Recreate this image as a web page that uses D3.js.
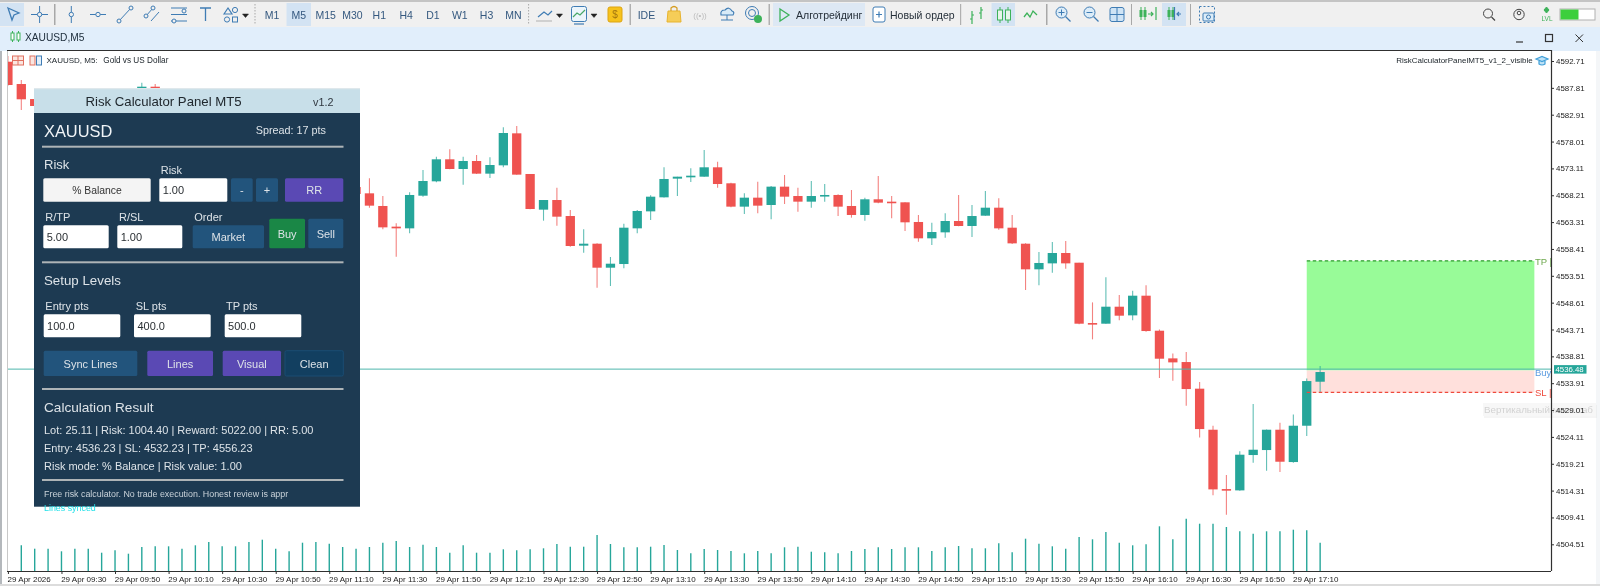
<!DOCTYPE html>
<html>
<head>
<meta charset="utf-8">
<title>XAUUSD,M5</title>
<script src="https://cdn.jsdelivr.net/npm/d3@7"></script>
<style>
html, body { margin: 0; padding: 0; background: #fff; overflow: hidden; }
svg { display: block; filter: blur(0.35px); }
text { font-family: "Liberation Sans", Arial, sans-serif; }
</style>
</head>
<body>
<svg width="1600" height="586"></svg>
<script>
// bar numbers run from the cut off bar at the left edge to the last open bar
var firstBar = -1;
var opens = [
  4592.58, 4588.51, 4585.77, 4585.20, 4586.40, 4586.00, 4586.80, 4585.90, 4586.70, 4587.30,
  4586.60, 4588.02, 4586.40, 4584.80, 4583.20, 4584.10, 4581.90, 4580.30, 4581.40, 4578.90,
  4577.10, 4578.00, 4575.20, 4573.40, 4574.30, 4571.60, 4569.71, 4568.56, 4566.25, 4562.48,
  4562.17, 4568.13, 4570.75, 4574.77, 4573.00, 4574.46, 4572.15, 4573.67, 4579.51, 4572.09,
  4565.58, 4567.34, 4564.42, 4559.01, 4559.37, 4554.99, 4555.66, 4562.17, 4565.27, 4567.83,
  4571.24, 4571.48, 4571.60, 4573.31, 4570.39, 4566.13, 4567.77, 4566.43, 4569.78, 4568.07,
  4567.04, 4568.01, 4568.26, 4566.25, 4564.61, 4567.47, 4567.04, 4566.92, 4563.33, 4560.35,
  4561.44, 4563.51, 4562.60, 4564.48, 4565.94, 4562.29, 4559.37, 4554.69, 4555.78, 4557.67,
  4555.90, 4544.89, 4544.77, 4547.87, 4546.29, 4549.88, 4543.49, 4538.44, 4537.77, 4532.91,
  4525.42, 4514.59, 4514.35, 4520.80, 4521.71, 4525.42, 4519.52, 4526.15, 4534.18
];
var highs = [
  4593.60, 4589.24, 4586.30, 4587.78, 4587.20, 4587.40, 4587.20, 4587.30, 4587.50, 4587.50,
  4588.75, 4588.51, 4587.00, 4585.30, 4584.80, 4584.60, 4582.40, 4582.00, 4581.90, 4579.40,
  4578.60, 4578.50, 4575.80, 4575.00, 4574.80, 4572.10, 4570.20, 4571.30, 4568.07, 4563.08,
  4568.74, 4572.82, 4575.25, 4576.59, 4575.25, 4575.56, 4575.13, 4580.61, 4580.85, 4572.09,
  4567.34, 4569.59, 4565.52, 4561.99, 4559.43, 4556.94, 4563.02, 4565.52, 4568.19, 4573.31,
  4571.60, 4573.12, 4576.47, 4574.34, 4570.51, 4568.56, 4570.69, 4569.90, 4571.91, 4569.60,
  4570.81, 4570.26, 4568.38, 4569.17, 4567.77, 4571.72, 4568.07, 4566.92, 4564.61, 4563.21,
  4564.91, 4568.26, 4566.43, 4568.99, 4567.65, 4564.61, 4559.43, 4557.85, 4559.68, 4559.86,
  4555.90, 4548.66, 4553.23, 4550.00, 4550.79, 4551.77, 4543.73, 4539.35, 4539.60, 4534.12,
  4526.15, 4517.15, 4521.47, 4530.11, 4525.48, 4526.70, 4528.22, 4534.79, 4537.04
];
var lows = [
  4588.20, 4583.77, 4584.00, 4584.50, 4585.60, 4585.30, 4585.10, 4585.40, 4586.10, 4586.00,
  4586.20, 4585.80, 4584.30, 4582.70, 4582.60, 4581.20, 4579.60, 4579.80, 4578.20, 4576.50,
  4576.40, 4574.60, 4572.80, 4572.70, 4571.00, 4569.20, 4568.10, 4565.94, 4561.99, 4557.00,
  4561.26, 4567.95, 4570.57, 4572.94, 4570.14, 4572.09, 4571.36, 4573.31, 4571.95, 4565.66,
  4563.57, 4562.66, 4558.83, 4557.73, 4551.34, 4551.65, 4554.87, 4561.26, 4563.69, 4567.80,
  4568.07, 4570.63, 4571.58, 4569.59, 4566.00, 4564.79, 4564.91, 4563.82, 4566.61, 4565.21,
  4565.94, 4567.04, 4564.42, 4564.12, 4563.57, 4566.74, 4564.00, 4561.69, 4559.74, 4559.13,
  4560.47, 4562.54, 4560.59, 4564.46, 4561.93, 4559.31, 4550.92, 4551.77, 4554.08, 4554.81,
  4544.65, 4541.91, 4544.75, 4545.38, 4545.38, 4543.31, 4534.85, 4534.37, 4529.80, 4524.02,
  4513.44, 4509.91, 4514.29, 4519.40, 4517.94, 4517.70, 4519.40, 4524.27, 4532.17
];
var closes = [
  4588.33, 4585.72, 4584.50, 4586.40, 4586.00, 4586.80, 4585.90, 4586.90, 4587.30, 4586.60,
  4588.02, 4586.40, 4584.80, 4583.20, 4584.10, 4581.90, 4580.30, 4581.40, 4578.90, 4577.10,
  4578.00, 4575.20, 4573.40, 4574.30, 4571.60, 4569.71, 4568.44, 4566.31, 4562.35, 4562.17,
  4568.26, 4570.81, 4574.77, 4573.00, 4574.46, 4572.15, 4573.73, 4579.57, 4571.97, 4565.70,
  4567.34, 4564.30, 4558.95, 4559.37, 4554.99, 4555.72, 4562.29, 4565.34, 4567.95, 4571.18,
  4571.60, 4571.78, 4573.31, 4570.26, 4566.13, 4567.77, 4566.31, 4569.78, 4567.95, 4567.04,
  4568.07, 4568.26, 4566.13, 4564.61, 4567.47, 4566.86, 4566.80, 4563.27, 4560.35, 4561.50,
  4563.51, 4562.60, 4564.42, 4565.94, 4562.17, 4559.43, 4554.69, 4555.85, 4557.67, 4555.78,
  4544.77, 4544.77, 4547.87, 4546.23, 4549.88, 4543.43, 4538.38, 4537.71, 4532.84, 4525.54,
  4514.53, 4514.41, 4520.86, 4521.77, 4525.42, 4519.58, 4526.15, 4534.30, 4535.95
];
// the first bar sits on the chart edge and shows no volume
var volumes = [
  0, 257, 223, 223, 197, 223, 223, 183, 207, 173,
  240, 247, 247, 223, 257, 290, 247, 247, 290, 313,
  223, 197, 283, 290, 273, 240, 223, 240, 283, 300,
  240, 263, 240, 183, 257, 183, 183, 217, 207, 217,
  227, 270, 243, 243, 360, 270, 237, 237, 243, 260,
  210, 177, 220, 210, 200, 177, 200, 177, 237, 243,
  193, 187, 177, 200, 220, 237, 220, 237, 237, 200,
  237, 250, 227, 227, 277, 187, 323, 273, 247, 223,
  340, 317, 390, 283, 257, 267, 447, 317, 523, 473,
  473, 440, 397, 373, 397, 397, 413, 407, 283
];

var priceTicks = [4592.71, 4587.81, 4582.91, 4578.01, 4573.11, 4568.21, 4563.31, 4558.41, 4553.51, 4548.61,
  4543.71, 4538.81, 4533.91, 4529.01, 4524.11, 4519.21, 4514.31, 4509.41, 4504.51];
var timeTickBars = [-1, 3, 7, 11, 15, 19, 23, 27, 31, 35, 39, 43, 47, 51, 55, 59, 63, 67, 71, 75, 79, 83, 87, 91, 95];
var timeLabels = ['29 Apr 2026', '29 Apr 09:30', '29 Apr 09:50', '29 Apr 10:10', '29 Apr 10:30', '29 Apr 10:50',
  '29 Apr 11:10', '29 Apr 11:30', '29 Apr 11:50', '29 Apr 12:10', '29 Apr 12:30', '29 Apr 12:50', '29 Apr 13:10',
  '29 Apr 13:30', '29 Apr 13:50', '29 Apr 14:10', '29 Apr 14:30', '29 Apr 14:50', '29 Apr 15:10', '29 Apr 15:30',
  '29 Apr 15:50', '29 Apr 16:10', '29 Apr 16:30', '29 Apr 16:50', '29 Apr 17:10'];

var bidPrice = 4536.48;
var entryPrice = 4536.23;
var slPrice = 4532.23;
var tpPrice = 4556.23;
var zoneStartBar = 96;
var zoneEndBar = 113;

var periods = ['M1', 'M5', 'M15', 'M30', 'H1', 'H4', 'D1', 'W1', 'H3', 'MN'];
var resultLines = [
  'Lot: 25.11 | Risk: 1004.40 | Reward: 5022.00 | RR: 5.00',
  'Entry: 4536.23 | SL: 4532.23 | TP: 4556.23',
  'Risk mode: % Balance | Risk value: 1.00'
];

var green = '#26a69a';
var red = '#ef5350';
var svg = d3.select('svg');

var chartLeft = 8, chartRight = 1551, chartTop = 51, chartBottom = 571;

var x = d3.scaleLinear().domain([-1, 97]).range([7.91, 1320.13]);
var y = d3.scaleLinear().domain([4592.71, 4504.51]).range([61, 544.3]);
var yVol = d3.scaleLinear().domain([0, 600]).range([chartBottom, chartBottom - 60]);

function rect(p, x0, y0, w, h, fill, r) {
  return p.append('rect').attr('x', x0).attr('y', y0).attr('width', w).attr('height', h)
    .attr('fill', fill).attr('rx', r || 0);
}
function label(p, x0, y0, str, size, fill, anchor) {
  return p.append('text').attr('x', x0).attr('y', y0).attr('dy', '0.35em').text(str)
    .attr('font-size', size).attr('fill', fill).attr('text-anchor', anchor || 'start');
}
function line(p, x1, y1, x2, y2, stroke, w) {
  return p.append('line').attr('x1', x1).attr('y1', y1).attr('x2', x2).attr('y2', y2)
    .attr('stroke', stroke).attr('stroke-width', w || 1);
}
function path(p, d, stroke, w, fill) {
  return p.append('path').attr('d', d).attr('stroke', stroke).attr('stroke-width', w || 1.2)
    .attr('fill', fill || 'none');
}

// window background
rect(svg, 0, 0, 1600, 586, '#f4f6f8');
rect(svg, 0, 0, 1600, 27, '#f0f0f0');
rect(svg, 0, 0, 1600, 2, '#c4c4c4');
rect(svg, 0, 27, 1600, 24, '#e1eefb');
rect(svg, 0, 51, 2, 535, '#b4b8bc');
rect(svg, 2, 51, 1594, 534, '#ffffff');
rect(svg, 0, 584, 1600, 2, '#dcdcdc');

// toolbar
var bar = svg.append('g');
rect(bar, 0, 3, 24, 23, '#d3e3f3');
rect(bar, 286.5, 3, 24.5, 23, '#d3e3f3');
rect(bar, 773, 3, 92, 23, '#dde8f4');
rect(bar, 991.5, 3, 23.5, 23, '#d3e3f3');
rect(bar, 1162, 3, 24, 23, '#d3e3f3');
var ico = '#3f7cb4';
path(bar, 'M8 8 L19 13 L14 15 L12 20 Z', ico, 1.3);
line(bar, 39.6, 6, 39.6, 23, ico); line(bar, 31, 14.5, 48, 14.5, ico);
bar.append('circle').attr('cx', 39.6).attr('cy', 14.5).attr('r', 2.2).attr('fill', '#f0f0f0').attr('stroke', ico);
rect(bar, 54, 4, 1.5, 21, '#a8a8a8');
line(bar, 71.3, 6, 71.3, 23, ico);
bar.append('circle').attr('cx', 71.3).attr('cy', 14.5).attr('r', 2.2).attr('fill', '#f0f0f0').attr('stroke', ico);
line(bar, 90, 14.5, 106, 14.5, ico);
bar.append('circle').attr('cx', 98).attr('cy', 14.5).attr('r', 2.2).attr('fill', '#f0f0f0').attr('stroke', ico);
line(bar, 119, 21, 131, 8, ico);
bar.append('circle').attr('cx', 119).attr('cy', 21).attr('r', 2).attr('fill', '#f0f0f0').attr('stroke', ico);
bar.append('circle').attr('cx', 131).attr('cy', 8).attr('r', 2).attr('fill', '#f0f0f0').attr('stroke', ico);
line(bar, 146, 16, 153, 8, ico); line(bar, 151, 21, 159, 12, ico);
bar.append('circle').attr('cx', 146).attr('cy', 16).attr('r', 2).attr('fill', '#f0f0f0').attr('stroke', ico);
bar.append('circle').attr('cx', 153).attr('cy', 8).attr('r', 2).attr('fill', '#f0f0f0').attr('stroke', ico);
[8, 14.5, 21].forEach(function (v) { line(bar, 171, v, 187, v, ico); });
bar.append('circle').attr('cx', 184).attr('cy', 11).attr('r', 2).attr('fill', '#f0f0f0').attr('stroke', ico);
bar.append('circle').attr('cx', 174).attr('cy', 21).attr('r', 2).attr('fill', '#f0f0f0').attr('stroke', ico);
path(bar, 'M200 8 H211 M205.5 8 V21', ico, 1.3);
path(bar, 'M224 14 L228 8 L232 14 Z', ico);
bar.append('circle').attr('cx', 235).attr('cy', 10).attr('r', 2.6).attr('fill', 'none').attr('stroke', ico);
bar.append('circle').attr('cx', 227).attr('cy', 19.5).attr('r', 2.6).attr('fill', 'none').attr('stroke', ico);
rect(bar, 232.5, 17, 5, 5, 'none').attr('stroke', ico);
path(bar, 'M242.5 14 H248.5 L245.5 17.5 Z', '#222', 0.5, '#222');
line(bar, 255, 4, 255, 25, '#a8a8a8').attr('stroke-dasharray', '1.5 1.5');
line(bar, 528.6, 4, 528.6, 25, '#a8a8a8').attr('stroke-dasharray', '1.5 1.5');

var periodX = d3.scalePoint().domain(periods).range([272, 513.4]);
periods.forEach(function (p) {
  label(bar, periodX(p), 15, p, 10.5, '#34587f', 'middle');
});

path(bar, 'M538 17 L544 12 L548 15 L552 11', ico);
line(bar, 536, 21, 552, 21, '#b0b0b0');
path(bar, 'M556.5 14 H562.5 L559.5 17.5 Z', '#222', 0.5, '#222');
rect(bar, 571.5, 6.5, 15, 15, '#ecf5fb', 2).attr('stroke', ico);
path(bar, 'M573 17 L577 13 L580 15 L585 10', '#48a868');
path(bar, 'M574 24 H584', ico);
path(bar, 'M591 14 H597 L594 17.5 Z', '#222', 0.5, '#222');
rect(bar, 608, 7, 14, 15, '#f6c21c', 2).attr('stroke', '#dda410');
label(bar, 615, 14.8, '$', 10, '#a27610', 'middle');
rect(bar, 629.5, 4, 1.5, 21, '#b0b0b0');
label(bar, 646.4, 15, 'IDE', 10.5, '#34587f', 'middle');
path(bar, 'M668 11 H680 L681 22 H667 Z', '#e7b32f', 1, '#f5cd58');
path(bar, 'M671 11 V8 Q674 5 677 8 V11', '#d69d22');
label(bar, 700, 15, '((•))', 8, '#bcbcbc', 'middle');
path(bar, 'M721 15 Q720 10 725 10 Q729 6 732 11 Q735 12 733 15 Z', ico, 1.2, '#d8ebf8');
line(bar, 721, 20, 733, 20, ico); line(bar, 727, 15, 727, 20, ico);
bar.append('circle').attr('cx', 752).attr('cy', 13).attr('r', 6.5).attr('fill', 'none').attr('stroke', ico);
bar.append('circle').attr('cx', 752).attr('cy', 13).attr('r', 3.5).attr('fill', 'none').attr('stroke', ico);
bar.append('circle').attr('cx', 758).attr('cy', 19).attr('r', 4).attr('fill', '#3db25a');
rect(bar, 768.5, 4, 1.5, 21, '#b0b0b0');
path(bar, 'M780 9 L789 15 L780 21 Z', '#3db25a', 1.3);
label(bar, 796, 15, 'Алготрейдинг', 10.5, '#26303a');
rect(bar, 873, 7, 12, 15, '#fff', 2).attr('stroke', ico);
path(bar, 'M876 14.5 H882 M879 11.5 V17.5', ico);
label(bar, 890, 15, 'Новый ордер', 10.5, '#26303a');
rect(bar, 960, 4, 1.2, 21, '#b0b0b0');
path(bar, 'M972 11 V24 M970 19 H972 M972 15 H974 M981 7 V19 M979 13 H981 M981 10 H983', '#3db25a', 1.2);
[1000, 1008].forEach(function (v) {
  line(bar, v, 7, v, 23, '#3db25a');
  rect(bar, v - 2.5, 10, 5, 10, '#e7f5ea').attr('stroke', '#3db25a');
});
path(bar, 'M1024 17 L1027 13 L1030 17 L1033 11 L1037 15', '#3db25a', 1.3);
rect(bar, 1046, 4, 1.5, 21, '#a8a8a8');
[[1061.5, true], [1089.5, false]].forEach(function (z) {
  bar.append('circle').attr('cx', z[0]).attr('cy', 12.5).attr('r', 5.5).attr('fill', '#dcecf8').attr('stroke', ico);
  line(bar, z[0] + 4, 16.5, z[0] + 9, 21.5, ico, 1.3);
  line(bar, z[0] - 3, 12.5, z[0] + 3, 12.5, ico);
  if (z[1]) line(bar, z[0], 9.5, z[0], 15.5, ico);
});
rect(bar, 1110, 7.5, 14, 14, '#cfe4f5', 2).attr('stroke', ico);
line(bar, 1117, 7.5, 1117, 21.5, ico); line(bar, 1110, 14.5, 1124, 14.5, ico);
rect(bar, 1131, 4, 1, 21, '#a8a8a8');
[1141, 1169].forEach(function (v) {
  line(bar, v, 7, v, 20, '#3db25a'); line(bar, v + 4, 7, v + 4, 20, '#3db25a');
  rect(bar, v - 1.5, 10, 3, 7, '#3db25a'); rect(bar, v + 2.5, 10, 3, 7, '#3db25a');
});
path(bar, 'M1148 14 H1153 M1151 12 L1153 14 L1151 16 M1156 7 V20', '#3db25a');
path(bar, 'M1181 14 H1177 M1179 12 L1177 14 L1179 16 M1174.5 7 V20', ico);
rect(bar, 1199.5, 6.5, 15, 16, 'none').attr('stroke', ico).attr('stroke-dasharray', '2 2');
rect(bar, 1203, 13, 11, 8, '#dcecf8', 1).attr('stroke', ico);
bar.append('circle').attr('cx', 1208.5).attr('cy', 17).attr('r', 2).attr('fill', 'none').attr('stroke', ico);
rect(bar, 1190, 4, 1, 21, '#a8a8a8');
bar.append('circle').attr('cx', 1488).attr('cy', 13.5).attr('r', 4.5).attr('fill', 'none').attr('stroke', '#444');
line(bar, 1491.5, 17, 1495, 20.5, '#444', 1.2);
bar.append('circle').attr('cx', 1519).attr('cy', 14.5).attr('r', 5.2).attr('fill', 'none').attr('stroke', '#444');
bar.append('circle').attr('cx', 1519).attr('cy', 13).attr('r', 1.8).attr('fill', 'none').attr('stroke', '#444');
path(bar, 'M1544 10 L1546.5 7 L1549 10 L1546.5 13 Z', '#3db25a', 1, '#3db25a');
label(bar, 1547, 18.5, 'LVL', 6.5, '#3db25a', 'middle');
rect(bar, 1560, 9, 35, 11, '#ffffff').attr('stroke', '#b0b0b0');
rect(bar, 1560.5, 9.5, 18, 10, '#3ccf3c');

// chart tab
[12.5, 18.5].forEach(function (v) {
  line(bar, v, 31, v, 42, '#3db25a');
  rect(bar, v - 1.5, 33, 3, 7, '#fff').attr('stroke', '#3db25a');
});
label(bar, 25, 37, 'XAUUSD,M5', 10.2, '#20303e');
line(bar, 1516, 42, 1523, 42, '#333', 1.2);
rect(bar, 1545.5, 34.5, 7, 7, 'none').attr('stroke', '#333').attr('stroke-width', 1.2);
path(bar, 'M1575.5 34.5 L1583 42 M1583 34.5 L1575.5 42', '#333', 1);

// plot
svg.append('clipPath').attr('id', 'plot').append('rect')
  .attr('x', chartLeft).attr('y', chartTop)
  .attr('width', chartRight - chartLeft).attr('height', chartBottom - chartTop);

var plot = svg.append('g').attr('clip-path', 'url(#plot)');

var zones = plot.append('g');
rect(zones, x(zoneStartBar), y(tpPrice), x(zoneEndBar) - x(zoneStartBar), y(entryPrice) - y(tpPrice), '#98fb98');
rect(zones, x(zoneStartBar), y(entryPrice), x(zoneEndBar) - x(zoneStartBar), y(slPrice) - y(entryPrice), '#ffe0dc');

var bars = d3.range(opens.length).map(function (i) {
  return { bar: i + firstBar, o: opens[i], h: highs[i], l: lows[i], c: closes[i], v: volumes[i] };
});
function barColor(d) { return d.c >= d.o ? green : red; }

plot.append('g').selectAll('line').data(bars).join('line')
  .attr('x1', function (d) { return x(d.bar); })
  .attr('x2', function (d) { return x(d.bar); })
  .attr('y1', yVol(0))
  .attr('y2', function (d) { return yVol(d.v); })
  .attr('stroke', green).attr('stroke-width', 1.4);

var candles = plot.append('g').selectAll('g').data(bars).join('g');
candles.append('line')
  .attr('x1', function (d) { return x(d.bar); })
  .attr('x2', function (d) { return x(d.bar); })
  .attr('y1', function (d) { return y(d.h); })
  .attr('y2', function (d) { return y(d.l); })
  .attr('stroke', barColor).attr('stroke-width', 1.1).attr('stroke-opacity', 0.72);
candles.append('rect')
  .attr('x', function (d) { return x(d.bar) - 4.65; })
  .attr('width', 9.3)
  .attr('y', function (d) { return y(Math.max(d.o, d.c)); })
  .attr('height', function (d) { return Math.max(1.6, Math.abs(y(d.o) - y(d.c))); })
  .attr('fill', barColor);

// order levels and bid line
line(plot, x(zoneStartBar), y(tpPrice), x(zoneEndBar), y(tpPrice), '#2a9a2a', 1.3).attr('stroke-dasharray', '3.5 2.5');
line(plot, x(zoneStartBar), y(slPrice), x(zoneEndBar), y(slPrice), '#ef4a3c', 1.3).attr('stroke-dasharray', '3.5 2.5');
line(plot, chartLeft, y(bidPrice), chartRight, y(bidPrice), '#4db6ac', 1);
label(plot, 1535, y(tpPrice) + 0.5, 'TP |', 9.5, '#6ea84e');
label(plot, 1535, y(entryPrice) + 1.8, 'Buy', 9.5, '#5a9be0');
label(plot, 1535, y(slPrice), 'SL |', 9.5, '#ef4a3c');

// chart header
var head = svg.append('g');
rect(head, 12.5, 56, 11, 9, '#fbe6e0').attr('stroke', '#e07060');
line(head, 12.5, 60.5, 23.5, 60.5, '#e07060'); line(head, 18, 56, 18, 65, '#e07060');
rect(head, 30, 56, 5, 9, '#fbe6e0').attr('stroke', '#e07060');
rect(head, 36.5, 56, 5, 9, '#e4f0fa').attr('stroke', '#3f7cb4');
label(head, 46.5, 60, 'XAUUSD, M5:', 8, '#20282e');
label(head, 103.3, 60, 'Gold vs US Dollar', 8.2, '#20282e');
label(head, 1532.7, 60, 'RiskCalculatorPanelMT5_v1_2_visible', 8, '#20282e', 'end');
path(head, 'M1536 59 L1542 56.5 L1548 59 L1542 61.5 Z M1539 61 V64 Q1542 66 1545 64 V61', '#3f9fd8', 1.2, '#bfe2f6');

// tooltip over the price scale
var tip = svg.append('g');
rect(tip, 1484, 405, 113, 13, '#dedede').attr('opacity', 0.3);
rect(tip, 1483, 403, 113, 13, '#f7f7f7');
label(tip, 1484, 409.5, 'Вертикальный масштаб', 9.8, '#d2d2d2');

// axes
function styleAxis(g) {
  g.select('.domain').attr('stroke', '#303030').attr('stroke-width', 1.2);
  g.selectAll('.tick line').attr('stroke', '#303030');
  g.selectAll('.tick text').attr('fill', '#222')
    .attr('font-family', '"Liberation Sans", Arial, sans-serif');
}

var yAxis = svg.append('g').attr('transform', 'translate(' + chartRight + ',0)')
  .call(d3.axisRight(y).tickValues(priceTicks).tickFormat(d3.format('.2f')).tickSize(3).tickPadding(2))
  .attr('font-size', 7.9);
yAxis.select('.domain').attr('d', 'M0.5,' + (chartTop - 1) + 'V' + chartBottom);
yAxis.call(styleAxis);

var xAxis = svg.append('g').attr('transform', 'translate(0,' + chartBottom + ')')
  .call(d3.axisBottom(x).tickValues(timeTickBars)
    .tickFormat(function (d, i) { return timeLabels[i]; }).tickSize(3).tickPadding(2))
  .attr('font-size', 8);
xAxis.select('.domain').attr('d', 'M' + (chartLeft - 1) + ',0.5H' + chartRight);
xAxis.call(styleAxis);
xAxis.selectAll('.tick text').attr('text-anchor', 'start').attr('dx', -0.8);

line(svg, chartLeft - 1, chartTop - 0.5, chartRight, chartTop - 0.5, '#303030', 1.2);
line(svg, chartLeft - 0.5, chartTop, chartLeft - 0.5, chartBottom, '#c8c8c8', 1);

// bid tag on the price scale
rect(svg, 1554, y(bidPrice) - 4, 32.5, 8.5, green);
label(svg, 1555.5, y(bidPrice), d3.format('.2f')(bidPrice), 7.8, '#ffffff');

// risk panel
var panel = svg.append('g');
var navy = '#1d3a52';
var blueBtn = '#22547c';
var purple = '#5a49b4';
var soft = '#dde3e8';
rect(panel, 34, 89, 326, 24, '#c8dfe9');
rect(panel, 34, 88, 326, 1.2, '#dfe8ec');
rect(panel, 34, 113, 326, 393.7, navy);
label(panel, 85.5, 101.5, 'Risk Calculator Panel MT5', 13.2, '#20282e');
label(panel, 313, 102, 'v1.2', 10.8, '#303840');
label(panel, 44, 131, 'XAUUSD', 16.4, '#f0f4f7');
label(panel, 255.7, 130.5, 'Spread: 17 pts', 10.8, soft);

[146.7, 262.3, 389, 480].forEach(function (v) {
  rect(panel, 42, v - 1, 301.5, 2, '#aeb4b7');
});

function inputBox(x0, y0, w, h, str) {
  rect(panel, x0, y0, w, h, '#ffffff', 1.5);
  label(panel, x0 + 3.4, y0 + h / 2 + 0.3, str, 11, '#2a2f33');
}
function button(x0, y0, w, h, str, fill, color, size) {
  var box = rect(panel, x0, y0, w, h, fill, 1.5);
  label(panel, x0 + w / 2, y0 + h / 2 + 0.3, str, size || 11, color || soft, 'middle');
  return box;
}

label(panel, 44, 164, 'Risk', 13, soft);
label(panel, 160.7, 170, 'Risk', 11, soft);
button(43.3, 178.3, 107.4, 23.4, '% Balance', '#f4f4f4', '#333', 10.4);
inputBox(159.3, 178.3, 68, 23.4, '1.00');
button(231, 178.3, 21.7, 23.4, '-', blueBtn);
button(256, 178.3, 22, 23.4, '+', blueBtn);
button(285, 178.3, 58.3, 23.4, 'RR', purple);

label(panel, 45.3, 217, 'R/TP', 11, soft);
label(panel, 119, 217, 'R/SL', 11, soft);
label(panel, 194.3, 217, 'Order', 11, soft);
inputBox(43.3, 225.3, 65.4, 23, '5.00');
inputBox(117.3, 225.3, 65, 23, '1.00');
button(192.7, 225.3, 71.3, 23, 'Market', blueBtn);
button(269.3, 218.7, 35.7, 29.6, 'Buy', '#1a8746');
button(308.3, 218.7, 35, 29.6, 'Sell', blueBtn);

label(panel, 44, 280, 'Setup Levels', 13.3, soft);
label(panel, 45.3, 306, 'Entry pts', 11, soft);
label(panel, 135.7, 306, 'SL pts', 11, soft);
label(panel, 226, 306, 'TP pts', 11, soft);
inputBox(43.7, 314.3, 76.6, 23, '100.0');
inputBox(134, 314.3, 76.7, 23, '400.0');
inputBox(224.7, 314.3, 76.6, 23, '500.0');
button(43.7, 350.7, 93.6, 25.3, 'Sync Lines', blueBtn);
button(147.3, 350.7, 65.7, 25.3, 'Lines', purple);
button(222.7, 350.7, 58.3, 25.3, 'Visual', purple);
button(285, 350.7, 58.3, 25.3, 'Clean', '#123f60').attr('stroke', '#1a4d73');

label(panel, 44, 407, 'Calculation Result', 13.6, soft);
resultLines.forEach(function (s, i) {
  label(panel, 44, 430 + i * 18.3, s, 11, soft);
});
label(panel, 44, 494, 'Free risk calculator. No trade execution. Honest review is appr', 8.9, '#c9d2d9');
label(panel, 44, 507.7, 'Lines synced', 8.9, '#22e0e8');
</script>
</body>
</html>
